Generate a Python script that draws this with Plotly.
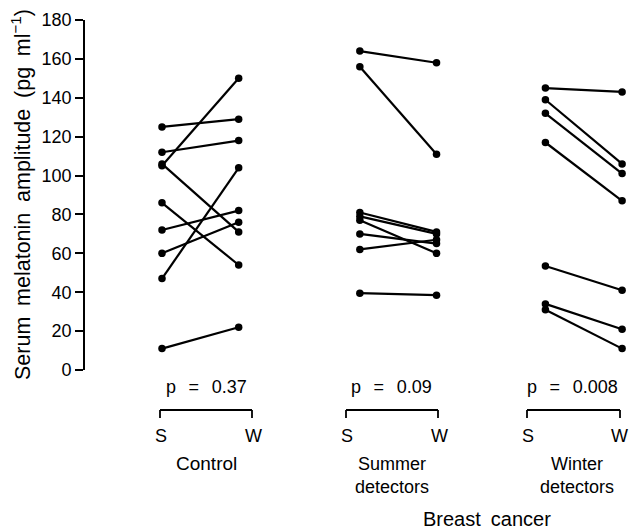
import plotly.graph_objects as go

# ---- data ----
group_names = ["Control", "Summer detectors", "Winter detectors"]
p_values = ["0.37", "0.09", "0.008"]
season_labels = ["S", "W"]

control_summer = [125, 112, 105, 106, 86, 72, 60, 47, 11]
control_winter = [129, 118, 150, 71, 54, 82, 76, 104, 22]
summer_summer = [164, 156, 81, 79, 77, 70, 62, 39.5]
summer_winter = [158, 111, 71, 70, 60, 65, 67, 38.5]
winter_summer = [145, 139, 132, 117, 53.5, 34, 31]
winter_winter = [143, 106, 101, 87, 41, 21, 11]

y_ticks = [0, 20, 40, 60, 80, 100, 120, 140, 160, 180]

# ---- layout constants ----
W, H = 629, 532
ML, MR, MT, MB = 85, 0, 20, 162
PW, PH = W - ML - MR, H - MT - MB
group_x = [0, 2.58, 5.0]
XR = [-1.004, 6.09]
FONT = "Liberation Sans, Arial, Helvetica, sans-serif"
SP = "\u2002\u2009"
EN = "\u2002"


def px(xp):
    return (xp - ML) / PW


def py(yp):
    return (H - MB - yp) / PH


fig = go.Figure()
series = [(control_summer, control_winter), (summer_summer, summer_winter),
          (winter_summer, winter_winter)]
for gx, (s_vals, w_vals) in zip(group_x, series):
    xs, ys = [], []
    for s, w in zip(s_vals, w_vals):
        xs += [gx, gx + 1, None]
        ys += [s, w, None]
    fig.add_trace(go.Scatter(
        x=xs, y=ys, mode="lines+markers",
        line=dict(color="black", width=2.2),
        marker=dict(color="black", size=7.5),
        cliponaxis=False, showlegend=False, hoverinfo="skip"))

shapes = []
annotations = []

# brackets, S/W labels, p-values, group names (positions from reference pixels)
bracket_px = [(160, 252), (346, 438), (527, 620)]
p_center_px = [206, 391, 572]
name_center_px = [206, 392, 577]
by, bt = 410, 418
for i, (l, r) in enumerate(bracket_px):
    shapes.append(dict(type="line", xref="paper", yref="paper",
                       x0=px(l), x1=px(r), y0=py(by), y1=py(by),
                       line=dict(color="black", width=1.8)))
    for xx in (l, r):
        shapes.append(dict(type="line", xref="paper", yref="paper",
                           x0=px(xx), x1=px(xx), y0=py(by), y1=py(bt),
                           line=dict(color="black", width=1.8)))
    for xx, lab in zip((l + 1, min(r + 1, 619)), season_labels):
        annotations.append(dict(xref="paper", yref="paper", x=px(xx), y=py(436),
                                text=lab, showarrow=False, xanchor="center",
                                yanchor="middle", font=dict(size=18)))
    annotations.append(dict(xref="paper", yref="paper", x=px(p_center_px[i]), y=py(387),
                            text="p" + SP + "=" + SP + p_values[i], showarrow=False,
                            xanchor="center", yanchor="middle", font=dict(size=18)))
    words = group_names[i].split(" ")
    if len(words) == 1:
        annotations.append(dict(xref="paper", yref="paper", x=px(name_center_px[i]), y=py(463),
                                text=words[0], showarrow=False, xanchor="center",
                                yanchor="middle", font=dict(size=19)))
    else:
        annotations.append(dict(xref="paper", yref="paper", x=px(name_center_px[i]),
                                y=py(475), text="<br>".join(words), showarrow=False,
                                xanchor="center", yanchor="middle", borderpad=0,
                                font=dict(size=18)))

annotations.append(dict(xref="paper", yref="paper", x=px(487), y=py(519),
                        text="Breast" + EN + "cancer", showarrow=False, xanchor="center",
                        yanchor="middle", borderpad=0, font=dict(size=20)))
annotations.append(dict(xref="paper", yref="paper", x=px(21), y=0.5,
                        text=EN.join(["Serum", "melatonin", "amplitude", "(pg", "ml<sup>\u22121</sup>)"]),
                        showarrow=False, textangle=-90, xanchor="center",
                        yanchor="middle", font=dict(size=21.5)))

fig.update_layout(
    width=W, height=H,
    margin=dict(l=ML, r=MR, t=MT, b=MB, pad=0),
    paper_bgcolor="white", plot_bgcolor="white",
    font=dict(family=FONT, color="black", size=18),
    xaxis=dict(range=XR, visible=False, fixedrange=True),
    yaxis=dict(range=[0, 180], tickvals=y_ticks, ticks="outside", ticklen=8,
               tickwidth=1.5, tickcolor="black", showline=True, linecolor="black",
               linewidth=1.8, showgrid=False, zeroline=False,
               tickfont=dict(size=18), fixedrange=True),
    shapes=shapes, annotations=annotations,
)

fig.write_html("out.html", config={"displayModeBar": False},
               post_script="document.body.style.margin='0';document.body.style.overflow='hidden';")
